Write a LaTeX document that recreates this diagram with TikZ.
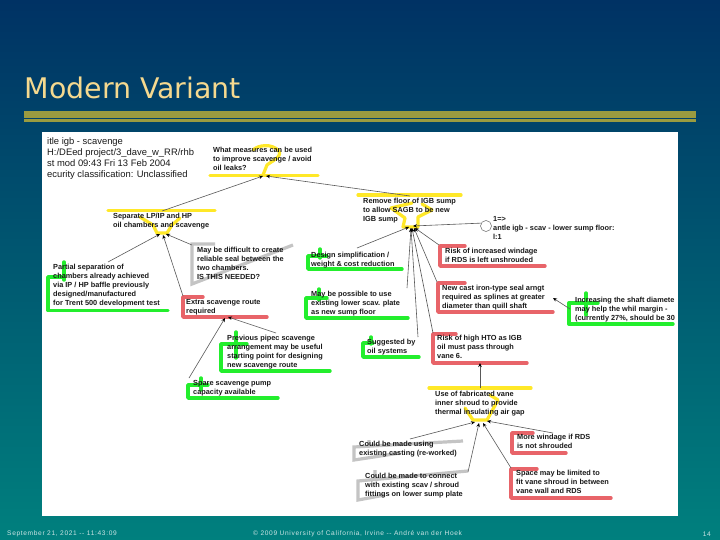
\documentclass[tikz,border=0pt]{standalone}
\usepackage{fontspec}
\setmainfont{Liberation Sans}
\newfontfamily\ttlfont{DejaVu Sans}
\newfontfamily\footfont[LetterSpace=10]{Liberation Sans}
\usetikzlibrary{arrows.meta}
\definecolor{bgtop}{RGB}{0,50,100}
\definecolor{bgbot}{RGB}{0,128,126}
\definecolor{hlyellow}{RGB}{255,232,40}
\definecolor{hlgreen}{RGB}{35,238,45}
\definecolor{hlred}{RGB}{232,100,105}
\definecolor{hlgray}{RGB}{196,196,196}
\definecolor{olive}{RGB}{154,155,64}
\definecolor{ttlcol}{RGB}{245,217,143}
\tikzset{
  lbl/.style={anchor=north west,inner sep=0pt,align=left,text=black!90,font=\bfseries\fontsize{7.35}{9.1}\selectfont},
  plainlbl/.style={anchor=north west,inner sep=0pt,align=left,text=black!90,font=\fontsize{9.4}{11}\selectfont},
  foot/.style={inner sep=0pt,text=white!80!teal,font=\footfont\fontsize{6.6}{8}\selectfont},
  conn/.style={draw=black!65,line width=0.6pt,-{Stealth[length=4pt,width=3.5pt,color=black]}},
  hy/.style={draw=hlyellow,line width=3.2pt,line join=round,line cap=round},
  hg/.style={draw=hlgreen,line width=3.4pt,line join=round,line cap=round},
  hr/.style={draw=hlred,line width=3.4pt,line join=round,line cap=round},
  hk/.style={draw=hlgray,line width=3.2pt,line join=miter},
}
\newcommand\conn[6]{\draw[conn] ([shift={(#2,#3)}]#1.north west) -- ([shift={(#5,#6)}]#4.north west);}
\begin{document}
\begin{tikzpicture}[x=1pt,y=-1pt]
\useasboundingbox (0,0) rectangle (720,540);
\shade[top color=bgtop,bottom color=bgbot,middle color=bgtop!50!bgbot] (0,0) rectangle (720,540);
% title and rule
\node[anchor=base west,inner sep=0pt,text=ttlcol,font=\ttlfont\fontsize{28.4}{32}\selectfont] (ttl) at (24.5,99) {Modern Variant};
\fill[olive] (24,111) rectangle (696,118.3);
\fill[olive] (24,119.3) rectangle (696,122);
% sheet
\fill[white] (42,132) rectangle (678,516);
% yellow marks
\draw[hy] (210,175.7) -- (318,175.7);
\draw[hy] (253,150) .. controls (258,145) and (272,143) .. (279,151) .. controls (282,157) and (272,161) .. (267,165) -- (263,175);
\draw[hy] (108,210.5) -- (215,210.5);
\draw[hy] (140,217) -- (153,225) -- (157,233) -- (167,233) -- (172,225) -- (180,218);
\draw[hy] (358,195) -- (461,195);
\draw[hy] (412,203) -- (391,208) -- (405,218) -- (403,227) -- (418,227) -- (418,217) -- (432,210) -- (422,204);
\draw[hy] (429,388) -- (531,388);
\draw[hy] (465,408) -- (473,420) -- (487,420) -- (498,400) -- (490,395);
% green marks
\draw[hg] (64,262) -- (64,280) (64,277) -- (48,277) -- (48,310.5) -- (168,310.5);
\draw[hg] (320,249) -- (320,258) (327,256) -- (308,256) -- (308,269) -- (402,269);
\draw[hg] (319,289) -- (319,300) (327,298) -- (306,298) -- (306,318) -- (408,318);
\draw[hg] (236,332) -- (236,358) (247,344) -- (221,344) -- (221,371) -- (330,371);
\draw[hg] (201,378) -- (201,390) (208,385) -- (188,385) -- (188,398) -- (278,398);
\draw[hg] (371,337) -- (371,344) (373,343) -- (363,343) -- (363,357) -- (419,357);
\draw[hg] (586,293) -- (586,315) (598,303) -- (569,303) -- (569,324) -- (673,324);
% red marks
\draw[hr] (203,297) -- (183,297) -- (183,317) -- (267,317);
\draw[hr] (465,246) -- (440,246) -- (440,266) -- (545,266);
\draw[hr] (465,283) -- (438,283) -- (438,312) -- (553,312);
\draw[hr] (456,334) -- (433,334) -- (433,363) -- (527,363);
\draw[hr] (533,433) -- (512,433) -- (512,453) -- (566,453);
\draw[hr] (537,469) -- (511,469) -- (511,498) -- (611,498);
% gray marks
\draw[hk] (215,244) -- (192,244) -- (192,284) -- (293,245);
\draw[hk] (463,441) -- (354,447) -- (354,460) -- (400,453) (369,440) -- (369,447);
\draw[hk] (468,471) -- (358,481) -- (358,500) -- (385,495) (375,470) -- (375,480);
% top-left note
\node[plainlbl] (note) at (47,137.5) {itle igb - scavenge\\ H:/DEed project/3\_dave\_w\_RR/rhb\\st mod 09:43 Fri 13 Feb 2004\\ecurity classification: Unclassified};
% labels
\node[lbl] (what) at (213,146.5) {What measures can be used\\to improve scavenge / avoid\\oil leaks?};
\node[lbl] (sep) at (113,213) {Separate LP/IP and HP\\oil chambers and scavenge};
\node[lbl] (diff) at (197,246.5) {May be difficult to create\\reliable seal between the\\two chambers.\\IS THIS NEEDED?};
\node[lbl] (partial) at (53,263.5) {Partial separation of\\chambers already achieved\\via IP / HP baffle previously\\designed/manufactured\\for Trent 500 development test};
\node[lbl] (extra) at (186,299) {Extra scavenge route\\required};
\node[lbl] (design) at (311,251.5) {Design simplification /\\weight \& cost reduction};
\node[lbl] (possible) at (311,290.5) {May be possible to use\\existing lower scav. plate\\as new sump floor};
\node[lbl] (remove) at (363,198) {Remove floor of IGB sump\\to allow SAGB to be new\\IGB sump};
\node[lbl] (oneto) at (493,216.5) {1=>\\antle igb - scav - lower sump floor:\\l:1};
\node[lbl] (riskw) at (445,247.5) {Risk of increased windage\\if RDS is left unshrouded};
\node[lbl] (newcast) at (442,284.5) {New cast iron-type seal arngt\\required as splines at greater\\diameter than quill shaft};
\node[lbl] (incr) at (575,296.5) {Increasing the shaft diamete\\may help the whil margin -\\(currently 27\%, should be 30};
\node[lbl] (prev) at (227,334.5) {Previous pipec scavenge\\arrangement may be useful\\starting point for designing\\new scavenge route};
\node[lbl] (spare) at (193,380.5) {Spare scavenge pump\\capacity available};
\node[lbl] (sugg) at (367,338.5) {Suggested by\\oil systems};
\node[lbl] (riskh) at (437,335) {Risk of high HTO as IGB\\oil must pass through\\vane 6.};
\node[lbl] (use) at (435,390.5) {Use of fabricated vane\\inner shroud to provide\\thermal insulating air gap};
\node[lbl] (cmu) at (359,441) {Could be made using\\existing casting (re-worked)};
\node[lbl] (cmc) at (365,472.5) {Could be made to connect\\with existing scav / shroud\\fittings on lower sump plate};
\node[lbl] (morew) at (517,434) {More windage if RDS\\is not shrouded};
\node[lbl] (space) at (516,470) {Space may be limited to\\fit vane shroud in between\\vane wall and RDS};
\node[draw=black!60,line width=0.5pt,circle,minimum size=11pt,inner sep=0pt] (circ) at (486,226) {};
% connectors
\conn{sep}{49}{-2}{what}{50}{29.5}
\conn{remove}{47}{-2}{what}{53}{29.5}
\conn{partial}{55}{-1.5}{sep}{47}{21}
\conn{extra}{-3}{-3}{sep}{50}{22}
\conn{diff}{-5}{-1.5}{sep}{53}{21}
\conn{prev}{49}{-1.5}{extra}{42}{18}
\conn{spare}{-4}{-2.5}{extra}{39}{19}
\conn{design}{46}{-3.5}{remove}{46}{29}
\conn{possible}{96}{-2.5}{remove}{48}{30}
\conn{sugg}{51}{-1.5}{remove}{48}{30}
\conn{riskh}{-4}{-2}{remove}{49}{30}
\conn{newcast}{-5}{-2.5}{remove}{51}{30}
\conn{riskw}{-6}{-2.5}{remove}{52}{30}
\draw[conn] (circ.150) -- ([shift={(50,28)}]remove.north west);
\conn{incr}{-5}{12.5}{newcast}{111}{13.5}
\conn{use}{45}{-2.5}{riskh}{43}{28}
\conn{cmu}{51}{-2}{use}{40}{31.5}
\conn{cmc}{103}{-0.5}{use}{44}{32.5}
\conn{morew}{36}{-1}{use}{52}{30.5}
\conn{space}{-5}{-2}{use}{48}{32.5}
% footer
\node[foot,anchor=west] (fl) at (7,534) {September 21, 2021 -- 11:43:09};
\node[foot,anchor=west] (fc) at (253,534) {© 2009 University of California, Irvine -- André van der Hoek};
\node[foot,anchor=east] (fr) at (711,534) {14};
\end{tikzpicture}
\end{document}
